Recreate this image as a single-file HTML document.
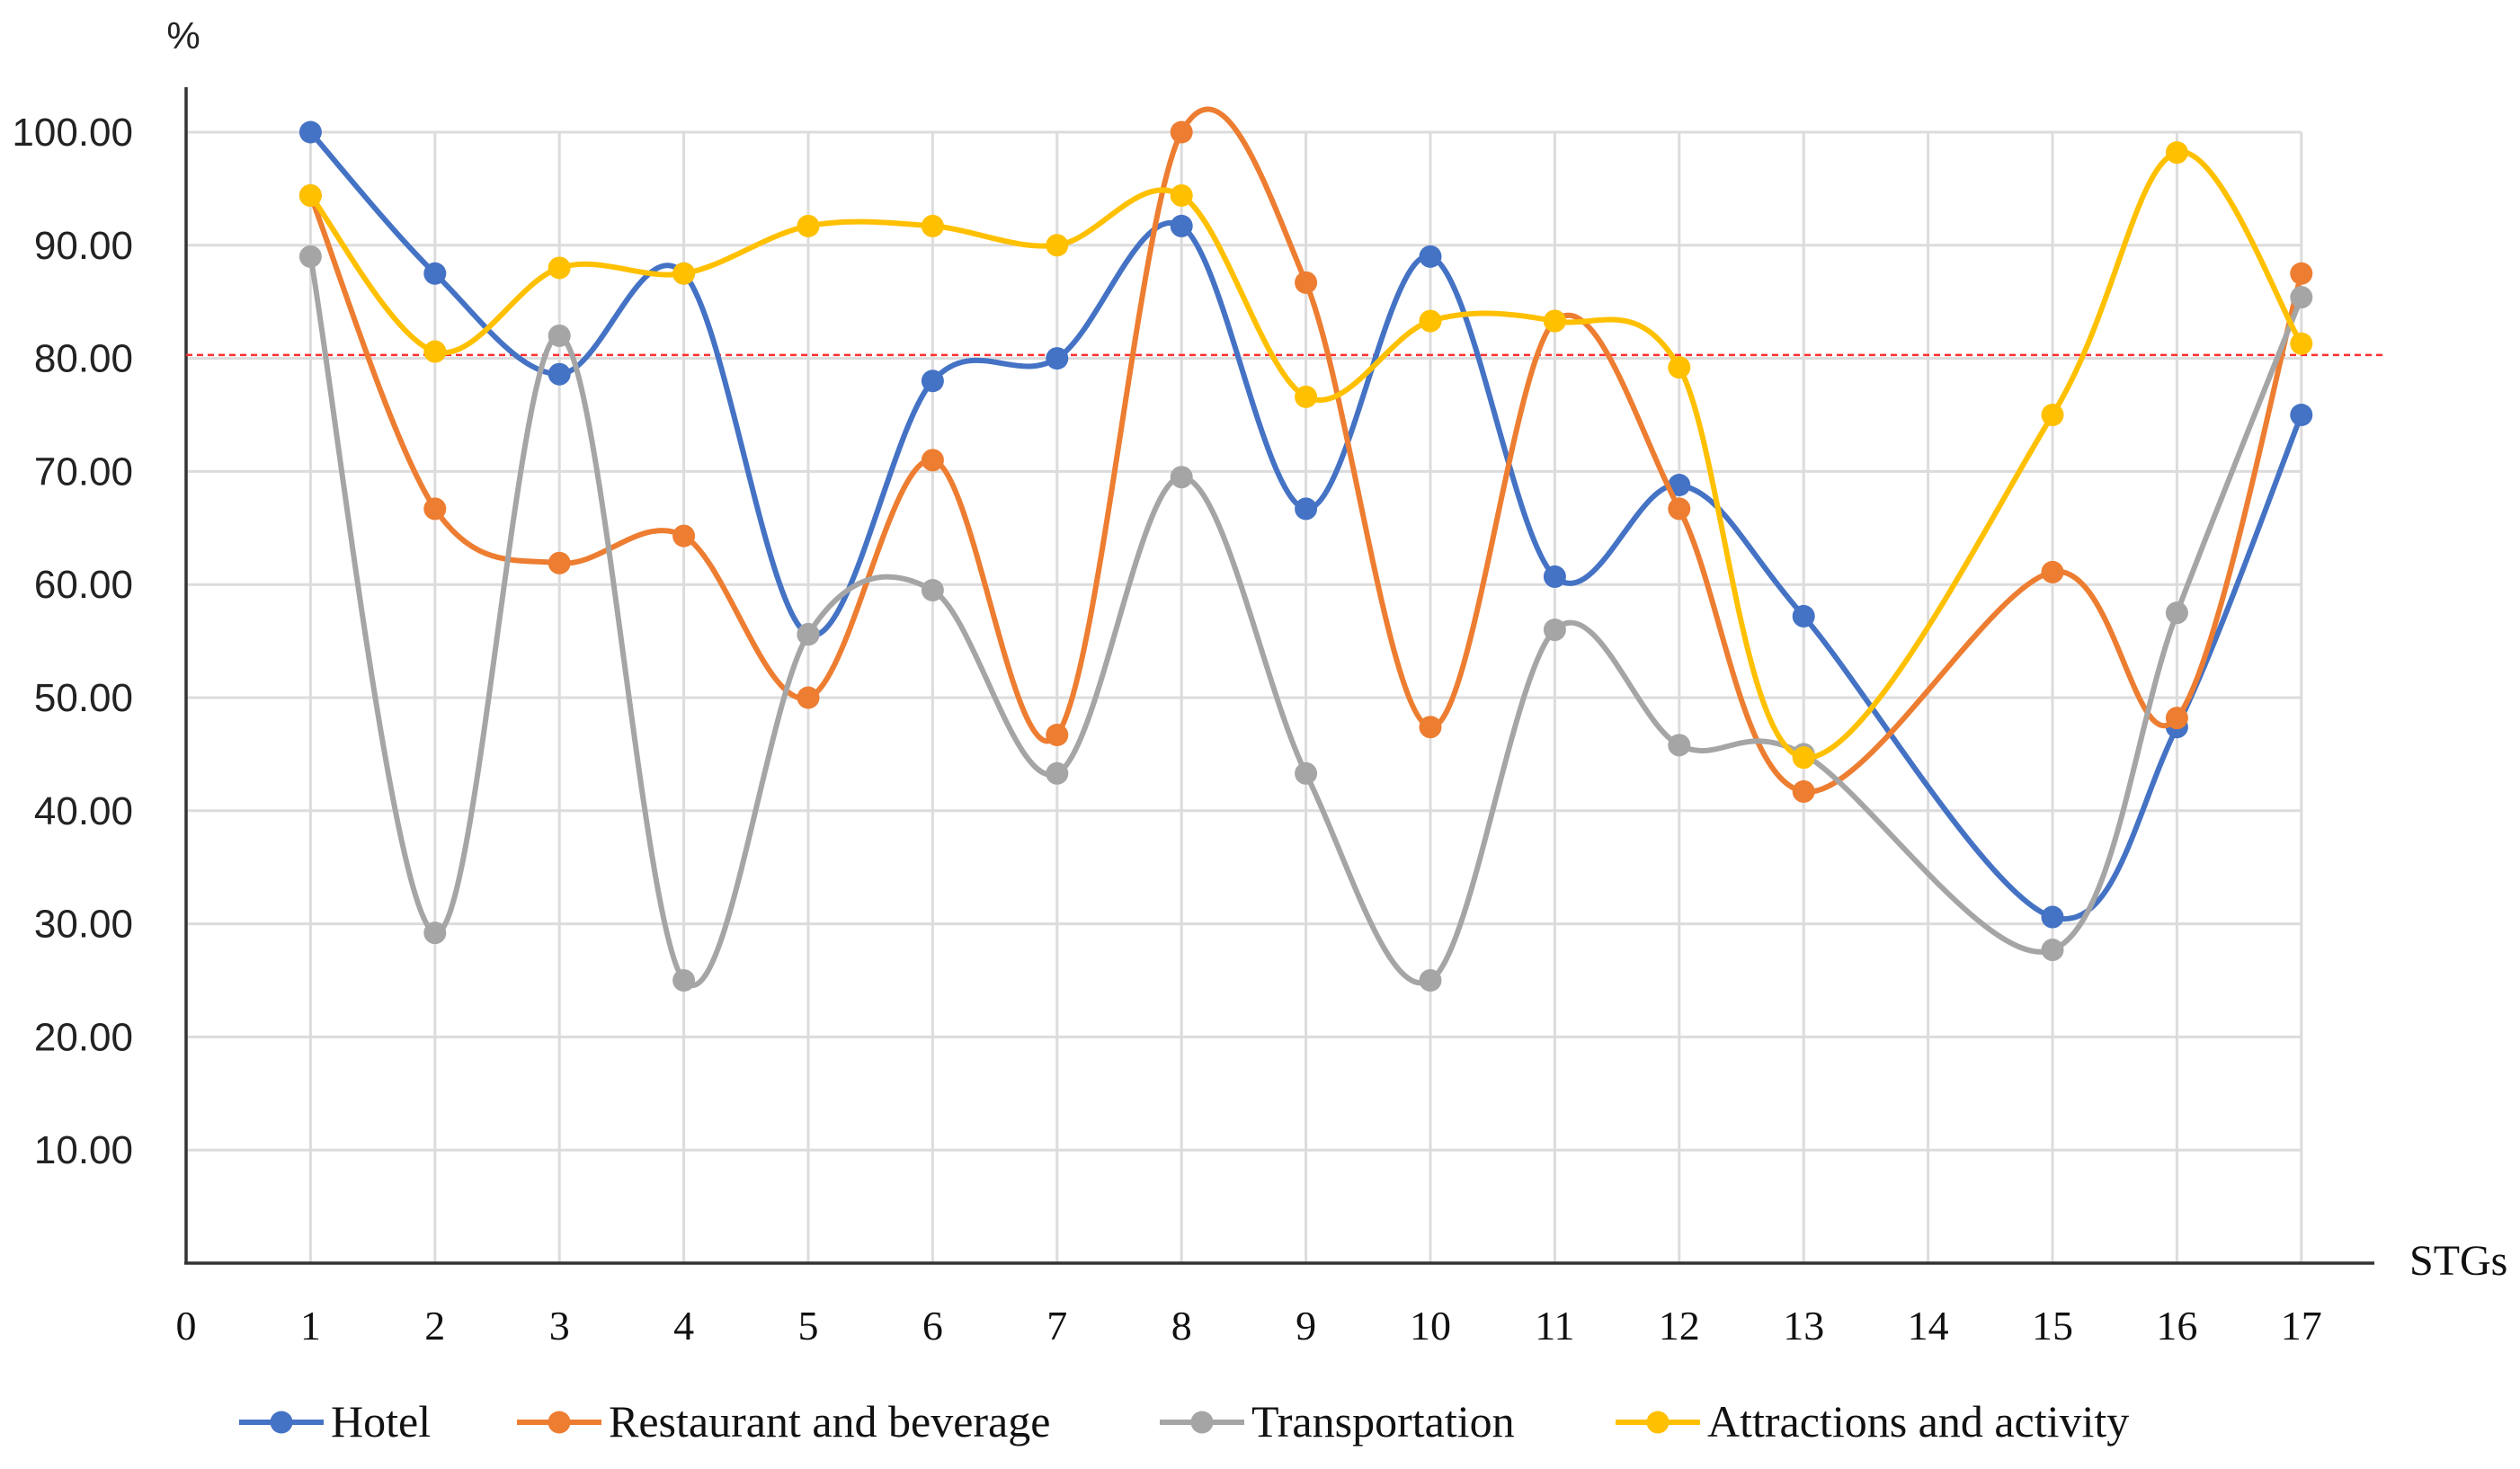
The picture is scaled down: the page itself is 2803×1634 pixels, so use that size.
<!DOCTYPE html>
<html><head><meta charset="utf-8"><style>
html,body{margin:0;padding:0;background:#fff;}
svg{display:block;}
</style></head><body>
<svg id="chart" width="2803" height="1634" viewBox="0 0 2803 1634" xmlns="http://www.w3.org/2000/svg">
<g id="grid"></g>
<g id="axes"></g>
<g id="series"></g>
<g id="legend"></g>
</svg>
<script>
const categories = [1,2,3,4,5,6,7,8,9,10,11,12,13,14,15,16,17];
const xTicks = [0,1,2,3,4,5,6,7,8,9,10,11,12,13,14,15,16,17];
const yTicks = [10,20,30,40,50,60,70,80,90,100];
const yTickLabels = ["10.00","20.00","30.00","40.00","50.00","60.00","70.00","80.00","90.00","100.00"];
const hotel = [100,87.5,78.6,87.5,55.6,78,80,91.7,66.7,89,60.7,68.8,57.2,null,30.6,47.4,75];
const restaurant = [94.4,66.7,61.9,64.3,50,71,46.7,100,86.7,47.4,83.3,66.7,41.7,null,61.1,48.2,87.5];
const transportation = [89,29.2,82,25,55.6,59.5,43.3,69.5,43.3,25,56,45.8,45,null,27.7,57.5,85.4];
const attractions = [94.4,80.6,88,87.5,91.7,91.7,90,94.4,76.6,83.3,83.3,79.2,44.7,null,75,98.2,81.3];
const seriesNames = ["Hotel","Restaurant and beverage","Transportation","Attractions and activity"];
const threshold = [80.3];

const NS="http://www.w3.org/2000/svg";
const X0=207, XS=138.4, Y0=1405, YS=12.58;
function xs(v){return X0+v*XS;}
function ys(v){return Y0-v*YS;}
function mk(tag,attrs,parent){const e=document.createElementNS(NS,tag);for(const k in attrs)e.setAttribute(k,attrs[k]);parent.appendChild(e);return e;}
const grid=document.getElementById('grid'),axes=document.getElementById('axes'),ser=document.getElementById('series'),leg=document.getElementById('legend');

yTicks.forEach((t,i)=>{
  const l=mk('line',{x1:xs(0),x2:xs(17),y1:ys(t),y2:ys(t),stroke:'#dcdcdc','stroke-width':3},grid);
  
  
  const tx=mk('text',{x:148,y:ys(t)+15,'text-anchor':'end','font-family':'Liberation Sans, sans-serif','font-size':44,fill:'#222'},axes);
  tx.textContent=yTickLabels[i];
  
  
});
categories.forEach(c=>{
  const l=mk('line',{x1:xs(c),x2:xs(c),y1:ys(100),y2:Y0,stroke:'#dcdcdc','stroke-width':3},grid);
  
  
});
xTicks.forEach(t=>{
  const tx=mk('text',{x:xs(t),y:1490,'text-anchor':'middle','font-family':'Liberation Serif, serif','font-size':46,fill:'#111'},axes);
  tx.textContent=String(t);
  
  
});
let a=mk('line',{x1:xs(0),x2:xs(0),y1:97,y2:Y0,stroke:'#333','stroke-width':3.5},axes);


a=mk('line',{x1:xs(0)-2,x2:2641,y1:Y0,y2:Y0,stroke:'#333','stroke-width':3.5},axes);


let t=mk('text',{x:204,y:54,'text-anchor':'middle','font-family':'Liberation Sans, sans-serif','font-size':42,fill:'#222'},axes);
t.textContent='%';


t=mk('text',{x:2680,y:1418,'font-family':'Liberation Serif, serif','font-size':48,fill:'#111'},axes);
t.textContent='STGs';


const th=mk('line',{x1:xs(0),x2:2650,y1:ys(threshold[0]),y2:ys(threshold[0]),stroke:'#ff3030','stroke-width':2.5,'stroke-dasharray':'7,5'},axes);



const colors=['#4472C4','#ED7D31','#A5A5A5','#FFC000'];
const all=[hotel,restaurant,transportation,attractions];
const keys=['hotel','restaurant','transportation','attractions'];
function smooth(p){
  if(p.length<2)return '';
  let d=`M${p[0][0]},${p[0][1]}`;
  for(let i=0;i<p.length-1;i++){
    const p0=p[i-1]||p[i],p1=p[i],p2=p[i+1],p3=p[i+2]||p2;
    const c1=[p1[0]+(p2[0]-p0[0])/6,p1[1]+(p2[1]-p0[1])/6];
    const c2=[p2[0]-(p3[0]-p1[0])/6,p2[1]-(p3[1]-p1[1])/6];
    d+=` C${c1[0]},${c1[1]} ${c2[0]},${c2[1]} ${p2[0]},${p2[1]}`;
  }
  return d;
}
all.forEach((vals,si)=>{
  const g=mk('g',{},ser);
  
  
  const pts=[];
  vals.forEach((v,i)=>{if(v!==null)pts.push([xs(categories[i]),ys(v)]);});
  const path=mk('path',{d:smooth(pts),fill:'none',stroke:colors[si],'stroke-width':6,'stroke-linejoin':'round'},g);
  
  
  pts.forEach(p=>{
    const c=mk('circle',{cx:p[0],cy:p[1],r:12.5,fill:colors[si]},g);
    
    
  });
});
const legX=[266,575,1290,1797];
seriesNames.forEach((n,i)=>{
  const g=mk('g',{},leg);
  
  
  const yc=1582;
  mk('line',{x1:legX[i],x2:legX[i]+94,y1:yc,y2:yc,stroke:colors[i],'stroke-width':6},g);
  mk('circle',{cx:legX[i]+47,cy:yc,r:12.5,fill:colors[i]},g);
  const tx=mk('text',{x:legX[i]+102,y:yc+16,'font-family':'Liberation Serif, serif','font-size':50,fill:'#111'},g);
  tx.textContent=n;
});
</script>
</body></html>
